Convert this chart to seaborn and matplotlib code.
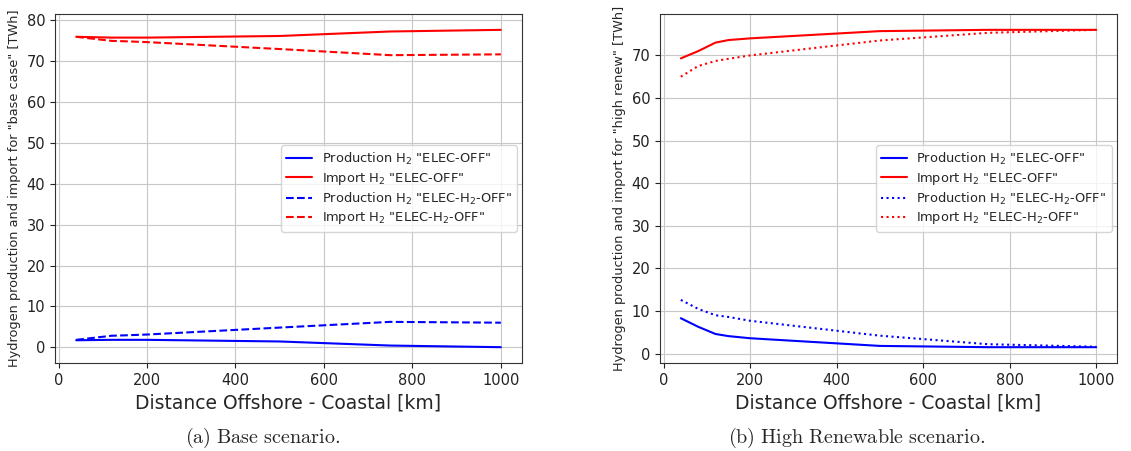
import matplotlib
matplotlib.use("Agg")
import matplotlib.pyplot as plt
import seaborn as sns
import pandas as pd

distance_km = [40, 80, 120, 150, 200, 500, 750, 1000]

# Base case
base_prod_elec_off = [1.7, 1.75, 1.8, 1.8, 1.8, 1.4, 0.4, 0.0]
base_import_elec_off = [76.0, 75.9, 75.8, 75.8, 75.8, 76.2, 77.3, 77.7]
base_prod_elec_h2_off = [1.8, 2.3, 2.8, 2.9, 3.1, 4.8, 6.2, 6.0]
base_import_elec_h2_off = [76.0, 75.5, 75.0, 74.9, 74.7, 73.0, 71.5, 71.7]

# High renewable
high_prod_elec_off = [8.3, 6.3, 4.6, 4.1, 3.6, 1.8, 1.5, 1.5]
high_import_elec_off = [69.3, 71.0, 73.0, 73.6, 74.0, 75.7, 76.0, 76.0]
high_prod_elec_h2_off = [12.6, 10.5, 9.0, 8.6, 7.7, 4.2, 2.2, 1.6]
high_import_elec_h2_off = [65.0, 67.5, 68.7, 69.2, 70.0, 73.5, 75.3, 76.0]

labels = ['Production H$_2$ "ELEC-OFF"', 'Import H$_2$ "ELEC-OFF"',
          'Production H$_2$ "ELEC-H$_2$-OFF"', 'Import H$_2$ "ELEC-H$_2$-OFF"']
ylabels = ['Hydrogen production and import for "base case" [TWh]',
           'Hydrogen production and import for "high renew" [TWh]']
captions = [r'$\mathrm{(a)\ Base\ scenario.}$', r'$\mathrm{(b)\ High\ Renewable\ scenario.}$']
xlabel = 'Distance Offshore - Coastal [km]'

sns.set_style("ticks", rc={"axes.grid": True, "grid.color": "#c8c8c8",
                           "axes.edgecolor": "#333333", "grid.linewidth": 0.9})
plt.rcParams['font.family'] = ['DejaVu Sans']
plt.rcParams['mathtext.fontset'] = 'dejavusans'

fig = plt.figure(figsize=(11.31, 4.51), dpi=100)
ax1 = fig.add_axes([0.0486, 0.195, 0.413, 0.774])
ax2 = fig.add_axes([0.5836, 0.195, 0.404, 0.774])

panels = [
    (ax1, [base_prod_elec_off, base_import_elec_off, base_prod_elec_h2_off, base_import_elec_h2_off], '--'),
    (ax2, [high_prod_elec_off, high_import_elec_off, high_prod_elec_h2_off, high_import_elec_h2_off], ':'),
]
colors = ['blue', 'red', 'blue', 'red']

for i, (ax, series, ls2) in enumerate(panels):
    styles = ['-', '-', ls2, ls2]
    for vals, lab, c, ls in zip(series, labels, colors, styles):
        df = pd.DataFrame({'x': distance_km, 'y': vals})
        sns.lineplot(data=df, x='x', y='y', ax=ax, color=c, linestyle=ls,
                     linewidth=1.5, label=lab)
    ax.set_xlabel(xlabel, fontsize=13.5)
    ax.set_ylabel(ylabels[i], fontsize=9.3)
    ax.tick_params(labelsize=10.5, colors='#222222')
    ax.set_xticks([0, 200, 400, 600, 800, 1000])
    ax.legend(loc='center right', fontsize=9.4, frameon=True, handlelength=2.0,
              borderaxespad=0.4, labelspacing=0.3, handletextpad=0.7)

ax1.set_yticks([0, 10, 20, 30, 40, 50, 60, 70, 80])
ax2.set_yticks([0, 10, 20, 30, 40, 50, 60, 70])

fig.text(0.232, 0.03, captions[0], ha='center', va='center', fontsize=14.5,
         math_fontfamily='cm')
fig.text(0.757, 0.03, captions[1], ha='center', va='center', fontsize=14.5,
         math_fontfamily='cm')

fig.savefig('out.png', dpi=100)
